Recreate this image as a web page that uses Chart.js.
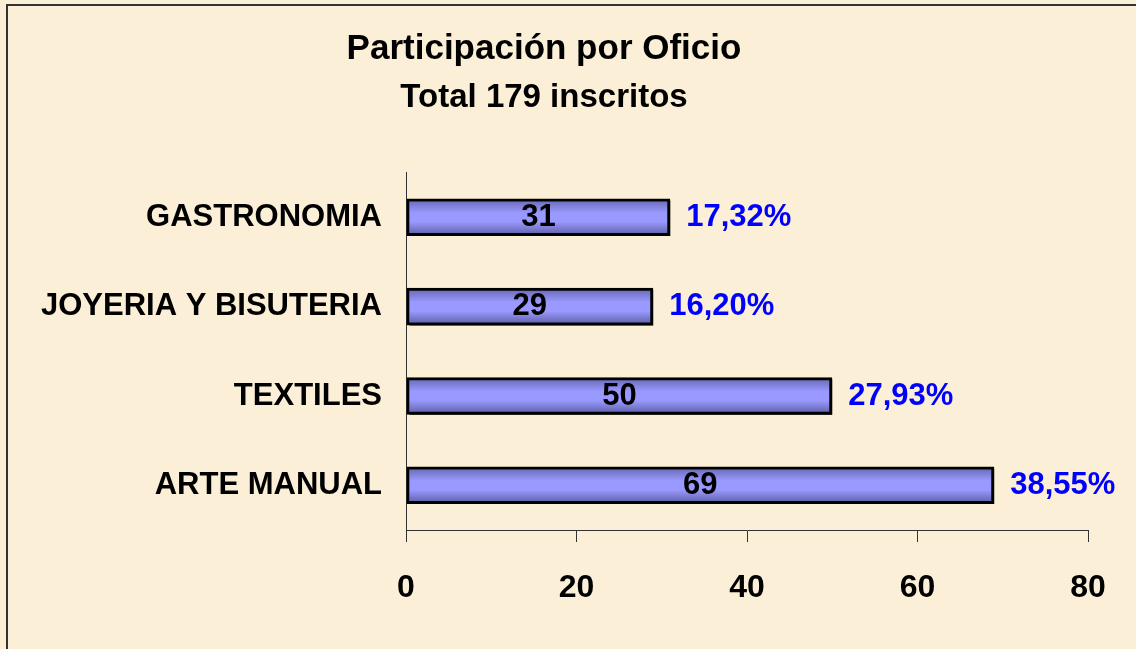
<!DOCTYPE html>
<html>
<head>
<meta charset="utf-8">
<script src="https://cdn.jsdelivr.net/npm/chart.js@4"></script>
<style>
  html, body { margin: 0; padding: 0; background: #FBEFD7; }
  canvas { display: block; }
</style>
</head>
<body>
<canvas id="graficoOficios" width="1136" height="649"></canvas>
<script>
// Datos
const oficios = ["GASTRONOMIA", "JOYERIA Y BISUTERIA", "TEXTILES", "ARTE MANUAL"];
const inscritos = [31, 29, 50, 69];
const porcentajes = ["17,32%", "16,20%", "27,93%", "38,55%"];
const ticksX = [0, 20, 40, 60, 80];

const fuente = "'Liberation Sans', Arial, sans-serif";
Chart.defaults.font.family = fuente;
Chart.defaults.color = "#000";

// Fondo tipo pergamino y marco
const fondoPlugin = {
    id: "fondo",
    beforeDraw(chart) {
        const ctx = chart.ctx;
        ctx.save();
        ctx.fillStyle = "#FBEFD7";
        ctx.fillRect(0, 0, chart.width, chart.height);
        ctx.strokeStyle = "#333";
        ctx.lineWidth = 2;
        ctx.strokeRect(7, 5, chart.width + 20, chart.height + 20);
        ctx.restore();
    }
};

// Sombra de las barras
const sombraPlugin = {
    id: "sombra",
    beforeDatasetsDraw(chart) {
        const ctx = chart.ctx;
        ctx.save();
        ctx.shadowColor = "rgba(0,0,0,0.95)";
        ctx.shadowOffsetX = 3;
        ctx.shadowOffsetY = 2;
        ctx.shadowBlur = 0;
    },
    afterDatasetsDraw(chart) {
        chart.ctx.restore();
    }
};

// Etiquetas de valor y porcentaje
const etiquetasPlugin = {
    id: "etiquetas",
    afterDatasetsDraw(chart) {
        const ctx = chart.ctx;
        const meta = chart.getDatasetMeta(0);
        ctx.save();
        ctx.textBaseline = "middle";
        meta.data.forEach((barra, i) => {
            ctx.font = "bold 31px " + fuente;
            ctx.fillStyle = "#000";
            ctx.textAlign = "center";
            ctx.fillText(inscritos[i], (barra.x + barra.base) / 2, barra.y);
            ctx.font = "bold 31px " + fuente;
            ctx.fillStyle = "#0000FF";
            ctx.textAlign = "left";
            ctx.fillText(porcentajes[i], barra.x + 16, barra.y);
        });
        ctx.restore();
    }
};

function colorBarra(context) {
    const chart = context.chart;
    const area = chart.chartArea;
    const escala = chart.scales.y;
    if (!area || !escala || context.type !== "data") return "#9999FF";
    const centro = escala.getPixelForValue(context.dataIndex);
    const alto = (area.bottom - area.top) / oficios.length * 0.42;
    if (!isFinite(centro) || !isFinite(alto)) return "#9999FF";
    const g = chart.ctx.createLinearGradient(0, centro - alto / 2, 0, centro + alto / 2);
    g.addColorStop(0, "#6464B0");
    g.addColorStop(0.38, "#9999FF");
    g.addColorStop(0.62, "#9999FF");
    g.addColorStop(1, "#5A5AA0");
    return g;
}

new Chart(document.getElementById("graficoOficios").getContext("2d"), {
    type: "bar",
    data: {
        labels: oficios,
        datasets: [{
            label: "Inscritos",
            data: inscritos,
            backgroundColor: colorBarra,
            borderColor: "#000",
            borderWidth: 3,
            borderSkipped: false,
            barPercentage: 0.42,
            categoryPercentage: 1
        }]
    },
    options: {
        indexAxis: "y",
        responsive: false,
        animation: false,
        layout: { padding: { left: 0, right: 48, top: 0, bottom: 0 } },
        plugins: {
            legend: { display: false },
            tooltip: { enabled: false },
            title: {
                display: true,
                text: "Participación por Oficio",
                color: "#000",
                font: { size: 35, weight: "bold" },
                padding: { top: 28, bottom: 0 }
            },
            subtitle: {
                display: true,
                text: "Total 179 inscritos",
                color: "#000",
                font: { size: 33, weight: "bold" },
                padding: { top: 8, bottom: 55 }
            }
        },
        scales: {
            x: {
                min: ticksX[0],
                max: ticksX[ticksX.length - 1],
                afterBuildTicks: escala => { escala.ticks = ticksX.map(v => ({ value: v })); },
                afterFit: escala => { escala.height = 119; },
                grid: {
                    drawOnChartArea: false,
                    drawTicks: true,
                    tickLength: 12,
                    color: "#333"
                },
                border: { display: true, color: "#333", width: 1 },
                ticks: {
                    color: "#000",
                    padding: 27,
                    font: { size: 32, weight: "bold" }
                }
            },
            y: {
                afterFit: escala => { escala.width = 406; },
                grid: { display: false },
                border: { display: true, color: "#333", width: 1 },
                ticks: {
                    color: "#000",
                    padding: 16,
                    font: { size: 31, weight: "bold" }
                }
            }
        }
    },
    plugins: [fondoPlugin, sombraPlugin, etiquetasPlugin]
});
</script>
</body>
</html>
